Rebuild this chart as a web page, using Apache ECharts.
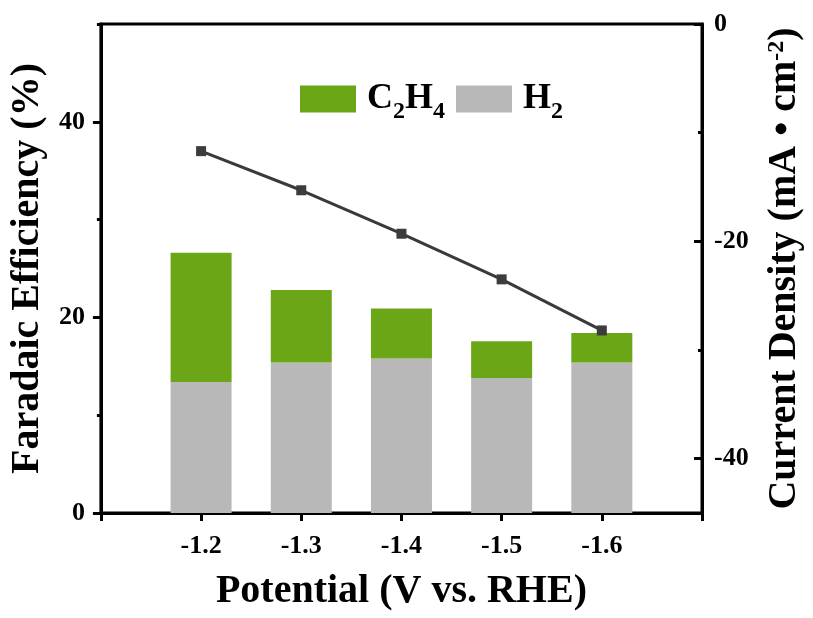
<!DOCTYPE html>
<html>
<head>
<meta charset="utf-8">
<script src="https://cdn.jsdelivr.net/npm/echarts@6/dist/echarts.min.js"></script>
<style>
  html, body { margin: 0; padding: 0; background: #fff; }
  #chart { width: 813px; height: 618px; }
</style>
</head>
<body>
<div id="chart"></div>
<script>
// Applied potentials (V vs. RHE)
const potentials = ['-1.2', '-1.3', '-1.4', '-1.5', '-1.6'];
// Faradaic efficiencies (%)
const feH2 = [13.4, 15.4, 15.8, 13.8, 15.4];
const feC2H4 = [13.2, 7.4, 5.1, 3.75, 3.0];
// Total current density (mA cm^-2)
const currentDensity = [-11.7, -15.3, -19.3, -23.5, -28.2];
// Axis tick labels
const feTicks = [0, 20, 40];
const feMinorTicks = [10, 30, 50];
const jTicks = [-40, -20, 0];
const jMinorTicks = [-30, -10];

const FONT = "'Liberation Serif', 'Times New Roman', serif";
const GREEN = '#6aa615';
const GREY = '#b8b8b8';

// Pad the category axis with one empty slot on each side
const pad = arr => [null].concat(arr, [null]);
const xCats = [''].concat(potentials, ['']);

const chart = echarts.init(document.getElementById('chart'));

const tickLabelStyle = {
  fontFamily: FONT, fontWeight: 'bold', fontSize: 26, color: '#000'
};
const titleStyle = {
  fontFamily: FONT, fontWeight: 'bold', fontSize: 40, color: '#000'
};

chart.setOption({
  animation: false,
  grid: {
    left: 100, right: 107, top: 24, bottom: 105,
    show: true, borderColor: '#000', borderWidth: 3
  },
  legend: {
    data: ['C2H4', 'H2'],
    left: 300, top: 81, padding: 0,
    itemWidth: 56, itemHeight: 27, itemGap: 11,
    icon: 'rect',
    formatter: name => name === 'C2H4'
      ? '{n|C}{s|2}{n|H}{s|4}'
      : '{n|H}{s|2}',
    textStyle: {
      padding: [0, 0, 0, 6],
      rich: {
        n: { fontFamily: FONT, fontWeight: 'bold', fontSize: 36, color: '#000' },
        s: { fontFamily: FONT, fontWeight: 'bold', fontSize: 24, padding: [26, 0, 0, 0], color: '#000' }
      }
    }
  },
  xAxis: {
    type: 'category',
    data: xCats,
    boundaryGap: false,
    name: 'Potential (V vs. RHE)',
    nameLocation: 'middle',
    nameGap: 59,
    nameTextStyle: titleStyle,
    axisLine: { lineStyle: { color: '#000', width: 3 } },
    axisTick: { show: true, interval: 0, length: 8, lineStyle: { color: '#000', width: 3 } },
    axisLabel: Object.assign({ interval: 0, margin: 20 }, tickLabelStyle),
    splitLine: { show: false }
  },
  yAxis: [
    {
      type: 'value', position: 'left', min: 0, max: 50,
      name: 'Faradaic Efficiency (%)',
      nameLocation: 'middle', nameGap: 52, nameRotate: 90,
      nameTextStyle: titleStyle,
      axisLine: { show: true, lineStyle: { color: '#000', width: 3 } },
      axisTick: { show: true, length: 8, customValues: feTicks, lineStyle: { color: '#000', width: 3 } },
      axisLabel: Object.assign({ customValues: feTicks, margin: 16 }, tickLabelStyle),
      splitLine: { show: false }
    },
    {
      // short minor ticks on the FE axis
      type: 'value', position: 'left', min: 0, max: 50,
      axisLine: { show: false },
      axisTick: { show: true, length: 4, customValues: feMinorTicks, lineStyle: { color: '#000', width: 3 } },
      axisLabel: { show: false },
      splitLine: { show: false }
    },
    {
      type: 'value', position: 'right', min: -45, max: 0,
      name: 'Current Density (mA \u2022 cm{sup|-2})',
      nameLocation: 'middle', nameGap: 63, nameRotate: 90,
      nameTextStyle: Object.assign({}, titleStyle, {
        rich: {
          sup: { fontFamily: FONT, fontWeight: 'bold', fontSize: 24, verticalAlign: 'top', lineHeight: 40, color: '#000' }
        }
      }),
      axisLine: { show: true, lineStyle: { color: '#000', width: 3 } },
      axisTick: { show: true, inside: true, length: 8, customValues: jTicks, lineStyle: { color: '#000', width: 3 } },
      axisLabel: Object.assign({ customValues: jTicks, margin: 12 }, tickLabelStyle),
      splitLine: { show: false }
    },
    {
      // short minor ticks on the current density axis
      type: 'value', position: 'right', min: -45, max: 0,
      axisLine: { show: false },
      axisTick: { show: true, inside: true, length: 4, customValues: jMinorTicks, lineStyle: { color: '#000', width: 3 } },
      axisLabel: { show: false },
      splitLine: { show: false }
    }
  ],
  series: [
    {
      name: 'H2', type: 'bar', stack: 'fe', yAxisIndex: 0,
      barWidth: 61,
      itemStyle: { color: GREY },
      data: pad(feH2)
    },
    {
      name: 'C2H4', type: 'bar', stack: 'fe', yAxisIndex: 0,
      barWidth: 61,
      itemStyle: { color: GREEN },
      data: pad(feC2H4)
    },
    {
      name: 'j', type: 'line', yAxisIndex: 2,
      symbol: 'rect', symbolSize: 10,
      itemStyle: { color: '#3c3c3c' },
      lineStyle: { color: '#3a3a3a', width: 3 },
      data: pad(currentDensity),
      connectNulls: false,
      z: 5
    }
  ]
});
</script>
</body>
</html>
